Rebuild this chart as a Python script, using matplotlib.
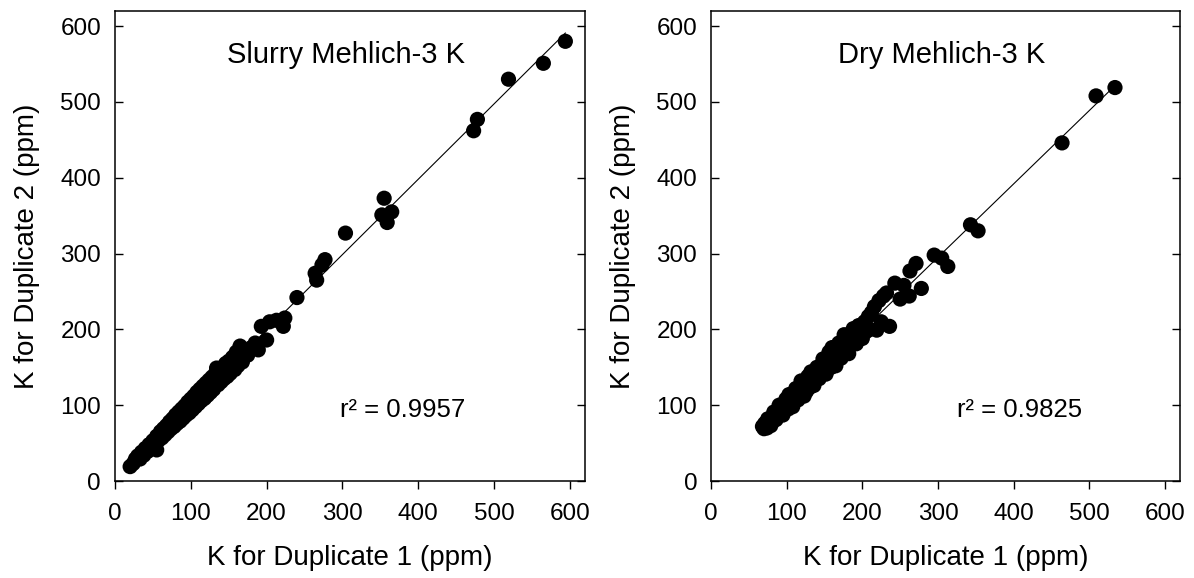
import numpy as np
import matplotlib
matplotlib.use("Agg")
import matplotlib.pyplot as plt

plt.rcParams['font.family'] = ['Liberation Sans', 'DejaVu Sans']

# Slurry Mehlich-3 K, duplicate 1 vs duplicate 2 (ppm)
slurry_x = [20, 24, 27, 30, 33, 35, 38, 40, 43, 45, 48, 50, 52, 55, 55, 58, 60, 62, 64, 66,
            68, 70, 72, 74, 76, 78, 80, 82, 84, 86, 88, 90, 92, 94, 96, 98, 100, 102, 104, 106,
            108, 110, 112, 114, 116, 118, 120, 122, 124, 126, 128, 130, 132, 134, 136, 138, 140,
            142, 144, 146, 148, 150, 152, 155, 158, 160, 162, 165, 168, 170, 175, 180, 185, 189,
            193, 200, 204, 213, 222, 224, 240, 264, 266, 273, 277, 304, 352, 355, 359, 365,
            473, 478, 519, 565, 594]
slurry_y = [19, 23, 29, 33, 29, 38, 34, 43, 39, 48, 43, 53, 48, 59, 41, 54, 65, 57, 69, 61,
            73, 65, 78, 69, 82, 72, 87, 76, 91, 79, 95, 83, 99, 87, 104, 90, 108, 94, 112, 98,
            117, 102, 121, 106, 125, 109, 129, 113, 133, 117, 137, 121, 141, 149, 127, 145, 131,
            150, 135, 155, 138, 158, 142, 163, 147, 170, 152, 178, 157, 172, 166, 176, 182, 173,
            204, 186, 210, 212, 204, 215, 242, 274, 265, 285, 292, 327, 351, 373, 341, 355,
            462, 477, 530, 551, 580]

# Dry Mehlich-3 K, duplicate 1 vs duplicate 2 (ppm)
dry_x = [68, 70, 71, 72, 74, 75, 76, 78, 79, 80, 82, 83, 85, 86, 88, 89, 90, 92, 93, 95,
         96, 98, 99, 100, 102, 103, 105, 106, 108, 109, 110, 112, 113, 115, 116, 118, 119, 120,
         122, 123, 125, 126, 128, 129, 130, 132, 133, 135, 136, 138, 139, 140, 142, 143, 145,
         146, 148, 149, 150, 152, 153, 155, 156, 158, 159, 160, 162, 163, 165, 166, 168, 169,
         170, 172, 173, 175, 176, 178, 180, 182, 184, 186, 188, 190, 192, 195, 198, 200, 203,
         205, 208, 210, 212, 216, 219, 222, 225, 228, 232, 236, 243, 250, 255, 262, 263, 271,
         278, 295, 305, 313, 343, 353, 464, 509, 534]
dry_y = [72, 69, 76, 72, 70, 82, 74, 82, 73, 82, 79, 91, 86, 81, 93, 88, 100, 88, 95, 87,
         100, 95, 108, 100, 95, 114, 103, 112, 98, 112, 105, 122, 114, 107, 123, 117, 132, 114,
         124, 112, 129, 118, 138, 129, 123, 144, 131, 141, 126, 141, 134, 150, 143, 135, 152,
         145, 161, 143, 152, 141, 158, 148, 170, 158, 150, 176, 159, 171, 152, 170, 162, 182,
         171, 162, 184, 172, 193, 170, 183, 168, 189, 180, 201, 187, 181, 205, 193, 188, 210,
         197, 217, 200, 222, 230, 199, 238, 210, 244, 248, 204, 261, 240, 258, 244, 277, 287,
         254, 298, 294, 283, 338, 330, 446, 508, 519]

titles = ["Slurry Mehlich-3 K", "Dry Mehlich-3 K"]
r2_labels = ["r\u00b2 = 0.9957", "r\u00b2 = 0.9825"]
ticks = [0, 100, 200, 300, 400, 500, 600]


def panel(ax, x, y, title, r2_text, r2_x):
    x = np.array(x)
    y = np.array(y)
    slope, intercept = np.polyfit(x, y, 1)
    xl = np.array([x.min(), x.max()])
    ax.plot(xl, slope * xl + intercept, color='black', lw=0.8, zorder=2)
    ax.scatter(x, y, s=120, color='black', edgecolors='none', zorder=3)

    ax.set_xlim(0, 620)
    ax.set_ylim(0, 620)
    ax.set_xticks(ticks)
    ax.set_yticks(ticks)
    ax.tick_params(axis='x', direction='out', length=6, width=1, pad=10, labelsize=17.5)
    ax.tick_params(axis='y', direction='in', length=6, width=1, pad=10, labelsize=17.5,
                   right=True)
    for sp in ax.spines.values():
        sp.set_linewidth(1.1)

    ax.text(305, 551, title, fontsize=21, ha='center', va='baseline')
    ax.text(r2_x, 84, r2_text, fontsize=18.5, ha='center', va='baseline')
    ax.set_xlabel('K for Duplicate 1 (ppm)', fontsize=20, labelpad=14)
    ax.set_ylabel('K for Duplicate 2 (ppm)', fontsize=20, labelpad=15)


fig = plt.figure(figsize=(11.94, 5.78), dpi=100)
ax1 = fig.add_axes([0.0963, 0.1678, 0.3937, 0.8132])
ax2 = fig.add_axes([0.5955, 0.1678, 0.3928, 0.8132])

panel(ax1, slurry_x, slurry_y, titles[0], r2_labels[0], 380)
panel(ax2, dry_x, dry_y, titles[1], r2_labels[1], 408)

fig.savefig('out.png', dpi=100)
